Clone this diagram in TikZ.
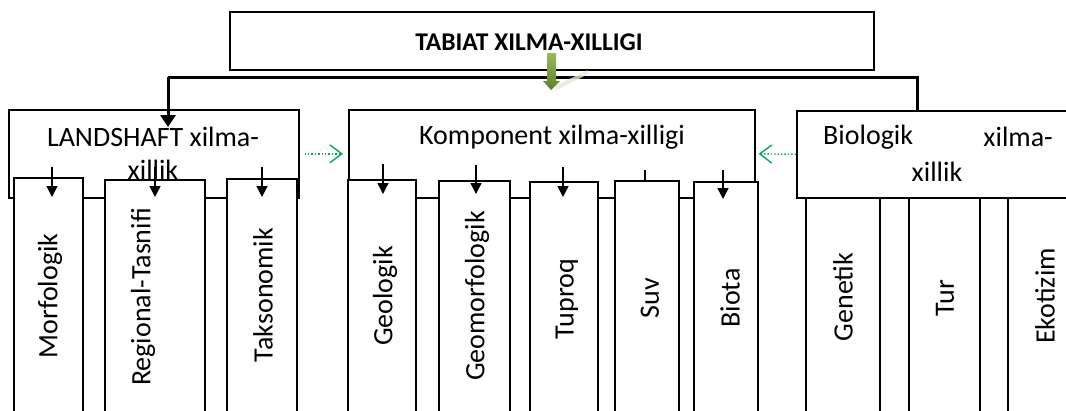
\documentclass[tikz,border=0pt]{standalone}
\usepackage{fontspec}
\setmainfont{Carlito}
\usetikzlibrary{arrows.meta}
\definecolor{grn}{HTML}{00B050}
\definecolor{olivetop}{HTML}{9BBB59}
\definecolor{olivebot}{HTML}{5E7F2A}
\definecolor{streak}{HTML}{E2ECCF}
\begin{document}
\begin{tikzpicture}[x=1pt,y=-1pt,
  box/.style={draw, line width=1.6pt, fill=white, inner sep=0pt, anchor=north west},
  txt/.style={inner sep=0pt, font=\fontsize{28}{33}\selectfont},
  vtext/.style={txt, rotate=90},
  arr/.style={line width=1.4pt, -{Triangle[length=11pt,width=11pt]}},
  bar/.style={line width=3pt, -{Triangle[length=12pt,width=15pt]}},
  garr/.style={grn, line width=1.4pt, dotted, -{Straight Barb[length=12pt,width=18pt]}}]
\path[use as bounding box] (0,0) rectangle (1066,410);
\clip (0,0) rectangle (1066,410);
% top
\node[box, minimum width=644pt, minimum height=58pt] (top) at (229,11) {};
\node[txt, font=\fontsize{25.5}{30}\selectfont\bfseries] (title) at (529,42) {TABIAT XILMA-XILLIGI};
% main boxes
\node[box, minimum width=290pt, minimum height=88pt] (land) at (8,109) {};
\node[box, minimum width=406pt, minimum height=88pt] (komp) at (348,109) {};
\node[box, minimum width=284pt, minimum height=87pt] (bio) at (796,110) {};
% bar connector
\coordinate (barL) at (168,77);
\coordinate (barR) at (917,77);
\draw[line width=3pt] (bio.north -| barR) -- (barR) -- (barL);
\draw[bar] (barL) -- ([yshift=-18pt]land.north -| barL);
% green fat arrow
\draw[streak, line width=4pt, opacity=0.8] (556,88) -- (588,72);
\shade[top color=olivetop, bottom color=olivebot] (547,53) -- (556,53) -- (556,81) -- (560,81) -- (551,90) -- (543,81) -- (547,81) -- cycle;
% texts of main boxes
\node[txt] (landt1) at (153,137) {LANDSHAFT xilma-};
\node[txt] (landt2) at (153,170) {xillik};
\node[txt] (kompt) at (552,137) {Komponent xilma-xilligi};
\node[txt, anchor=west] (biot1) at (823,137) {Biologik};
\node[txt, anchor=east] (biot2) at (1053,137) {xilma-};
\node[txt] (biot3) at (937,172) {xillik};
% green dotted arrows
\draw[garr] ([xshift=5pt]land.east) -- ([xshift=-5pt]komp.west);
\draw[garr] (bio.west) -- ([xshift=3pt]komp.east);
% landshaft children
\node[box, minimum width=69pt, minimum height=245pt] (morf) at (13,177) {};
\node[box, minimum width=100pt, minimum height=245pt] (reg) at (104,179) {};
\node[box, minimum width=70pt, minimum height=245pt] (tak) at (226,178) {};
\node[vtext] (morft) at (50,296) {Morfologik};
\node[vtext] (regt) at (143,297) {Regional-Tasnifi};
\node[vtext] (takt) at (263,295) {Taksonomik};
\draw[arr] ([yshift=32pt]land.south -| 52,0) -- ([yshift=-20pt]morf.north -| 52,0);
\draw[arr] ([yshift=32pt]land.south -| 155,0) -- ([yshift=-18pt]reg.north -| 155,0);
\draw[arr] ([yshift=32pt]land.south -| 262,0) -- ([yshift=-19pt]tak.north -| 262,0);
% komponent children
\node[box, minimum width=68pt, minimum height=245pt] (geo) at (347,179) {};
\node[box, minimum width=71pt, minimum height=245pt] (geom) at (438,180) {};
\node[box, minimum width=68pt, minimum height=245pt] (tup) at (529,181) {};
\node[box, minimum width=64pt, minimum height=245pt] (suv) at (614,180) {};
\node[box, minimum width=64pt, minimum height=245pt] (biota) at (693,181) {};
\node[vtext] (geot) at (385,296) {Geologik};
\node[vtext] (geomt) at (477,296) {Geomorfologik};
\node[vtext] (tupt) at (567,299) {Tuproq};
\node[vtext] (suvt) at (650,298) {Suv};
\node[vtext] (biotat) at (730,298) {Biota};
\draw[arr] ([yshift=35pt]komp.south -| 383,0) -- ([yshift=-15pt]geo.north -| 383,0);
\draw[arr] ([yshift=34pt]komp.south -| 476,0) -- ([yshift=-14pt]geom.north -| 476,0);
\draw[arr] ([yshift=32pt]komp.south -| 563,0) -- ([yshift=-16pt]tup.north -| 563,0);
\draw[line width=1.4pt] ([yshift=29pt]komp.south -| 645,0) -- (suv.north -| 645,0);
\draw[arr] ([yshift=29pt]komp.south -| 723,0) -- ([yshift=-18pt]biota.north -| 723,0);
% biologik children
\node[box, minimum width=74pt, minimum height=225pt] (gen) at (805,197) {};
\node[box, minimum width=71pt, minimum height=225pt] (tur) at (908,197) {};
\node[box, minimum width=73pt, minimum height=225pt] (eko) at (1007,197) {};
\node[vtext] (gent) at (843,297) {Genetik};
\node[vtext] (turt) at (945,298) {Tur};
\node[vtext] (ekot) at (1045,296) {Ekotizim};
\end{tikzpicture}
\end{document}
